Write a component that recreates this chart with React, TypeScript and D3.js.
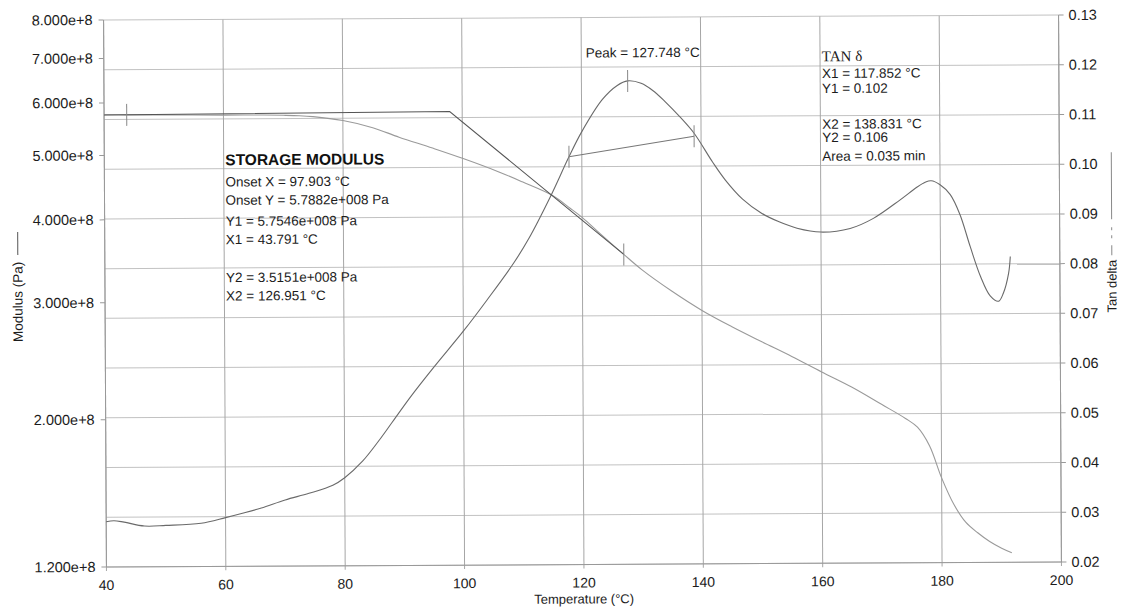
import * as d3 from "d3";

const W = 1127;
const H = 609;
const plot = { left: 105, right: 1060, top: 17.5, bottom: 564.5 };

// axis ticks
const tempTicks = [40, 60, 80, 100, 120, 140, 160, 180, 200];
const modulusTicks = [1.2e8, 2e8, 3e8, 4e8, 5e8, 6e8, 7e8, 8e8];
const modulusTickLabels = ["1.200e+8", "2.000e+8", "3.000e+8", "4.000e+8", "5.000e+8", "6.000e+8", "7.000e+8", "8.000e+8"];
const tanTicks = [0.02, 0.03, 0.04, 0.05, 0.06, 0.07, 0.08, 0.09, 0.1, 0.11, 0.12, 0.13];
const tanTickLabels = ["0.02", "0.03", "0.04", "0.05", "0.06", "0.07", "0.08", "0.09", "0.10", "0.11", "0.12", "0.13"];

// storage modulus (Pa) vs temperature
const modulusTemp = [40, 43.79, 50, 60, 65, 70, 72.7, 75, 80, 85, 89.4, 95, 100, 106.1, 110, 115, 118, 120, 123, 126.95, 130, 135, 140, 145, 150, 155, 160, 165, 170, 174, 176, 178, 180, 182, 184, 186, 188, 190, 191.7];
const modulusValue = [5.76e8, 5.755e8, 5.75e8, 5.74e8, 5.74e8, 5.73e8, 5.72e8, 5.70e8, 5.62e8, 5.48e8, 5.30e8, 5.10e8, 4.92e8, 4.69e8, 4.53e8, 4.32e8, 4.13e8, 4.0e8, 3.78e8, 3.515e8, 3.33e8, 3.09e8, 2.89e8, 2.73e8, 2.59e8, 2.46e8, 2.33e8, 2.21e8, 2.08e8, 1.98e8, 1.92e8, 1.80e8, 1.61e8, 1.47e8, 1.38e8, 1.33e8, 1.29e8, 1.26e8, 1.24e8];

// tan delta vs temperature
const tanTemp = [40, 41.3, 43, 46.4, 50, 55.9, 60, 63, 66, 70, 74, 78, 80, 83, 86, 88, 91.1, 95, 100.1, 104, 108.5, 111, 114.7, 117.85, 120, 123.5, 126, 127.75, 130, 132, 134, 136.4, 138.83, 141.9, 144, 146.9, 150, 153, 156, 160, 164.9, 168.8, 173.3, 176.1, 177.5, 178.5, 180, 181.7, 183.3, 185, 186.7, 188.3, 189.7, 190.5, 191.4, 191.7];
const tanValue = [0.0291, 0.0293, 0.029, 0.0282, 0.0283, 0.0287, 0.0298, 0.0307, 0.0317, 0.0333, 0.0346, 0.0362, 0.0377, 0.041, 0.0455, 0.0488, 0.0539, 0.0598, 0.0672, 0.0733, 0.0807, 0.0855, 0.094, 0.102, 0.107, 0.1135, 0.1163, 0.1172, 0.1167, 0.1152, 0.113, 0.11, 0.1066, 0.1008, 0.0972, 0.0933, 0.0905, 0.0887, 0.0874, 0.0866, 0.0873, 0.0893, 0.093, 0.0955, 0.0965, 0.0968, 0.096, 0.094, 0.09, 0.0835, 0.0775, 0.0736, 0.0725, 0.0741, 0.0781, 0.0815];

// analysis annotations
const onsetTangentTemp = [40, 97.903, 126.951];
const onsetTangentValue = [5.752e8, 5.7882e8, 3.5151e8];
const modulusMarkTemp = [43.791, 126.951];
const modulusMarkValue = [5.7546e8, 3.5151e8];
const tanMarkTemp = [117.852, 127.748, 138.831];
const tanMarkValue = [0.102, 0.1172, 0.106];

const modulusNotes = [
  "Onset X = 97.903 °C",
  "Onset Y = 5.7882e+008 Pa",
  "Y1 = 5.7546e+008 Pa",
  "X1 = 43.791 °C",
  "Y2 = 3.5151e+008 Pa",
  "X2 = 126.951 °C",
];
const tanNotes = ["X1 = 117.852 °C", "Y1 = 0.102", "X2 = 138.831 °C", "Y2 = 0.106", "Area = 0.035  min"];

const SANS = "'Liberation Sans', Arial, sans-serif";
const SERIF = "'Liberation Serif', 'Times New Roman', serif";

export default function App() {
  const x = d3.scaleLinear().domain([40, 200]).range([plot.left, plot.right]);
  const yMod = d3.scaleLog().domain([1.2e8, 8e8]).range([plot.bottom, plot.top]);
  const yTan = d3.scaleLinear().domain([0.02, 0.13]).range([plot.bottom, plot.top]);

  const modLine = d3
    .line<number>()
    .x((_, i) => x(modulusTemp[i]))
    .y((d) => yMod(d))
    .curve(d3.curveCatmullRom.alpha(0.5));
  const tanLine = d3
    .line<number>()
    .x((_, i) => x(tanTemp[i]))
    .y((d) => yTan(d))
    .curve(d3.curveCatmullRom.alpha(0.5));
  const tangent = d3
    .line<number>()
    .x((_, i) => x(onsetTangentTemp[i]))
    .y((d) => yMod(d));

  const fg = "#1c1c1c";

  return (
    <svg
      width={W}
      height={H}
      style={{ position: "absolute", left: 0, top: 0, background: "#fff" }}
      fontFamily={SANS}
    >
      <rect width={W} height={H} fill="#fff" />
      <g transform={`rotate(-0.3 ${(plot.left + plot.right) / 2} ${(plot.top + plot.bottom) / 2})`}>
        {/* horizontal grid (tan delta ticks) */}
        {tanTicks.map((t) => (
          <line key={`h${t}`} x1={plot.left} x2={plot.right} y1={yTan(t)} y2={yTan(t)} stroke="#c2c2c2" />
        ))}
        {/* vertical grid */}
        {tempTicks.map((t) => (
          <line key={`v${t}`} x1={x(t)} x2={x(t)} y1={plot.top} y2={plot.bottom + 4} stroke="#a6a6a6" />
        ))}
        {/* axes */}
        <line x1={plot.left} x2={plot.left} y1={plot.top} y2={plot.bottom} stroke="#999" />
        <line x1={plot.right} x2={plot.right} y1={plot.top} y2={plot.bottom} stroke="#999" />
        <line x1={plot.left} x2={plot.right} y1={plot.bottom} y2={plot.bottom} stroke="#999" />

        {/* left ticks */}
        {modulusTicks.map((t, i) => (
          <g key={`lm${t}`}>
            <line x1={plot.left - 5} x2={plot.left} y1={yMod(t)} y2={yMod(t)} stroke="#999" />
            <text x={plot.left - 11} y={yMod(t)} textAnchor="end" dominantBaseline="central" fontSize={14.5} fill={fg}>
              {modulusTickLabels[i]}
            </text>
          </g>
        ))}
        {/* right ticks */}
        {tanTicks.map((t, i) => (
          <g key={`rt${t}`}>
            <line x1={plot.right} x2={plot.right + 5} y1={yTan(t)} y2={yTan(t)} stroke="#999" />
            <text x={plot.right + 10} y={yTan(t)} dominantBaseline="central" fontSize={14.5} fill={fg}>
              {tanTickLabels[i]}
            </text>
          </g>
        ))}
        {/* bottom ticks */}
        {tempTicks.map((t) => (
          <text key={`bt${t}`} x={x(t)} y={plot.bottom + 18} textAnchor="middle" dominantBaseline="central" fontSize={14} fill={fg}>
            {t}
          </text>
        ))}
        <text x={(plot.left + plot.right) / 2} y={plot.bottom + 34.5} textAnchor="middle" dominantBaseline="central" fontSize={13} fill={fg}>
          Temperature (°C)
        </text>

        {/* axis titles */}
        <text
          transform={`translate(18, 299) rotate(-90)`}
          textAnchor="middle"
          dominantBaseline="central"
          fontSize={13.5}
          fill={fg}
        >
          Modulus (Pa)
        </text>
        <line x1={18} x2={18} y1={229} y2={252} stroke="#555" />
        <text
          transform={`translate(1112, 289) rotate(-90)`}
          textAnchor="middle"
          dominantBaseline="central"
          fontSize={13}
          fill={fg}
        >
          Tan delta
        </text>
        <line x1={1112} x2={1112} y1={258} y2={155} stroke="#888" strokeDasharray="10,7,3,5,3,8,70" />

        {/* curves */}
        <path d={modLine(modulusValue) ?? ""} fill="none" stroke="#9a9a9a" strokeWidth={1.1} />
        <path d={tanLine(tanValue) ?? ""} fill="none" stroke="#6a6a6a" strokeWidth={1.1} />
        <path d={tangent(onsetTangentValue) ?? ""} fill="none" stroke="#555" strokeWidth={1} />
        <line
          x1={x(tanMarkTemp[0])}
          y1={yTan(tanMarkValue[0])}
          x2={x(tanMarkTemp[2])}
          y2={yTan(tanMarkValue[2])}
          stroke="#777"
        />
        {/* marks */}
        {modulusMarkTemp.map((t, i) => (
          <line key={`mm${t}`} x1={x(t)} x2={x(t)} y1={yMod(modulusMarkValue[i]) - 11} y2={yMod(modulusMarkValue[i]) + 11} stroke="#888" />
        ))}
        {tanMarkTemp.map((t, i) => (
          <line key={`tm${t}`} x1={x(t)} x2={x(t)} y1={yTan(tanMarkValue[i]) - 11} y2={yTan(tanMarkValue[i]) + 11} stroke="#888" />
        ))}

        {/* storage modulus notes */}
        <text x={226} y={157.8} dominantBaseline="central" fontSize={15.5} fontWeight={700} fill="#111">
          STORAGE MODULUS
        </text>
        {modulusNotes.map((s, i) => (
          <text
            key={s}
            x={226}
            y={[180.2, 198.5, 219.5, 237.8, 275.8, 294.2][i]}
            dominantBaseline="central"
            fontSize={13.5}
            fill={fg}
          >
            {s}
          </text>
        ))}

        {/* tan delta notes */}
        <text x={587} y={53} dominantBaseline="central" fontSize={13.5} fill={fg}>
          Peak = 127.748 °C
        </text>
        <text x={823} y={57.5} dominantBaseline="central" fontSize={15} fontFamily={SERIF} fill={fg}>
          TAN δ
        </text>
        {tanNotes.map((s, i) => (
          <text
            key={s}
            x={823}
            y={[74.8, 89.8, 125.5, 138.8, 157.5][i]}
            dominantBaseline="central"
            fontSize={13.5}
            fill={fg}
          >
            {s}
          </text>
        ))}
      </g>
    </svg>
  );
}
